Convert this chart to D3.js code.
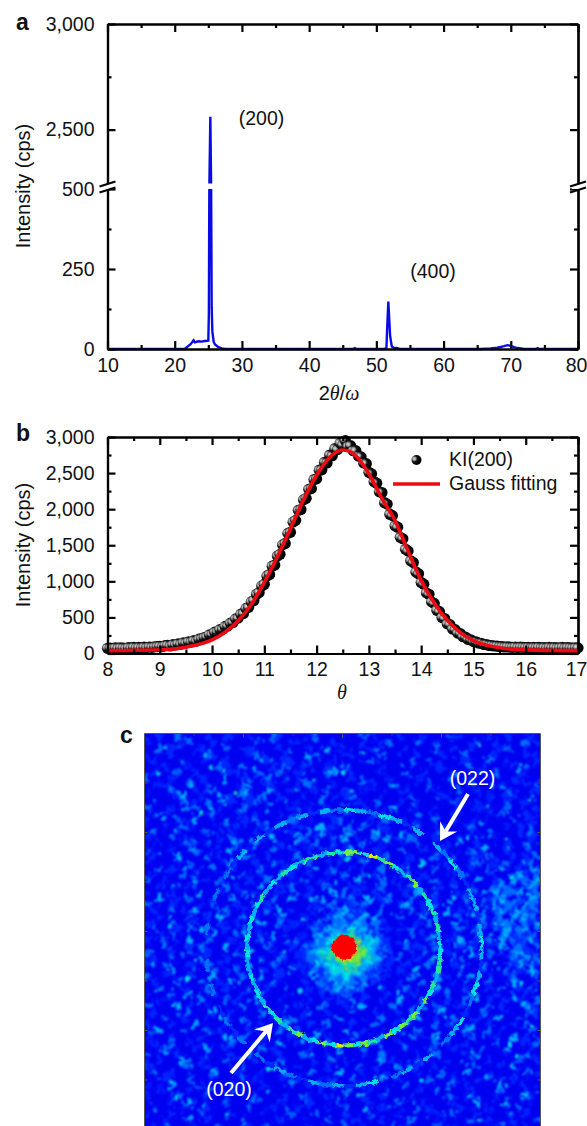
<!DOCTYPE html>
<html>
<head>
<meta charset="utf-8">
<script src="https://cdn.jsdelivr.net/npm/d3@7"></script>
<style>
html, body { margin: 0; padding: 0; background: #fff; overflow: hidden; }
text { font-family: "Liberation Sans", Arial, sans-serif; fill: #111; }
.axis path, .axis line { stroke: #000; stroke-width: 2.2; }
.axis text { font-size: 19.5px; fill: #111; font-family: "Liberation Sans", Arial, sans-serif; }
</style>
</head>
<body>
<svg id="fig" width="587" height="1126"></svg>
<script>
// panel a : diffractogram
const scanAngle = [10, 21.5, 22, 22.4, 22.8, 23, 23.5, 24, 24.5, 25, 25.08, 25.15, 25.3, 25.42, 25.5, 25.6, 25.8, 26, 26.5, 27, 27.6, 46.5, 46.8, 47, 51.2, 51.5, 51.6, 51.78, 52.05, 52.3, 52.6, 53, 53.5, 65.5, 67, 68, 69, 69.5, 70, 70.5, 71, 72, 73.7, 74, 74.2, 80];
const scanCounts = [0, 0, 9, 16, 27, 21, 24, 23, 25, 26, 110, 500, 2561, 500, 130, 55, 22, 14, 6, 2, 0, 0, 3, 0, 0, 4, 60, 148, 40, 8, 4, 3, 0, 0, 2, 4, 9, 12, 10, 6, 3, 0, 0, 3, 0, 0];
const peakLabels = ['(200)', '(400)'];

// panel b : rocking curve, one reading every 0.05 degree from 8 to 17
const kiCounts = [
  72, 75, 70, 78, 74, 80, 76, 73, 82, 78, 85, 80, 84, 78, 88, 82, 90, 86, 92, 96,
  100, 96, 108, 112, 104, 122, 118, 134, 128, 148,
  145, 162, 158, 178, 172, 198, 205, 222, 230, 260,
  262, 295, 300, 330, 335, 375, 380, 420, 430, 480,
  490, 545, 555, 625, 640, 715, 735, 820, 845, 935,
  960, 1075, 1095, 1210, 1225, 1350, 1375, 1505, 1525, 1665,
  1680, 1820, 1845, 1985, 1995, 2130, 2150, 2275, 2285, 2410,
  2420, 2540, 2545, 2650, 2640, 2750, 2740, 2840, 2825, 2915,
  2890, 2950, 2870, 2880, 2810, 2810, 2735, 2725, 2640, 2630,
  2510, 2490, 2380, 2360, 2240, 2230, 2090, 2070, 1930, 1910,
  1770, 1750, 1610, 1590, 1445, 1420, 1285, 1260, 1130, 1105,
  985, 960, 840, 820, 715, 695, 600, 580, 500, 485,
  410, 400, 340, 330, 282, 275, 232, 226, 195, 190,
  165, 162, 145, 142, 125, 124, 112, 110, 104, 102,
  96, 94, 90, 92, 88, 86, 90, 84, 88, 86,
  82, 85, 80, 84, 82, 86, 80, 82, 78, 84,
  80, 82, 78, 80, 84, 78, 82, 80, 76, 80,
  78];
const fitTheta = [8, 9, 9.5, 10, 10.25, 10.5, 10.75, 11, 11.25, 11.5, 11.75, 12, 12.25, 12.5, 12.75, 13, 13.25, 13.5, 13.75, 14, 14.25, 14.5, 14.75, 15, 15.25, 15.5, 16, 17];
const fitCounts = [40, 51, 88, 190, 295, 455, 680, 985, 1340, 1730, 2130, 2470, 2720, 2820, 2740, 2490, 2150, 1840, 1420, 1010, 700, 460, 290, 180, 116, 79, 50, 40];

// panel c : detector frame, intensity class 0-9 per cell
const cellRows = [
  '0010020000100110010002100 00120000100201000 100010002110000100100010',
  '1000001200010000002001001 10000010000100120 000200100000110010000201',
  '0020100001000200110000100 00100301000011000 010000200100100001200100',
  '0000100010210000012000010 00020000110000200 100100010002000010000110',
  '1100002000100100000310011 00200010000120000 002001000011000200100001',
  '0001000100002100200001020 01100100200000100 001000110000201000010200',
  '0100020010000011001200200 10000230010000100 020010000100001020000100',
  '2000100001000300100120010 02000100010200010 000110002000100100011000',
  '0011000200100000230011000 10200010000011002 000002000100200001000102',
  '1000200010120001200031001 00010200100100000 110000100020010000200001',
  '0000013001002010310200100 01000010120000100 002000011000000100110020',
  '0100002010200310012000020 10002000001002000 100100000210010000100100',
  '2000100220001000200010001 00100100200100003 001000100010011000200001',
  '0021000000120002001000100 20000100010002100 000201000100000102000100',
  '1000020030010000102000002 00100012000010020 010000200100101000020010',
  '0001002100000201000120100 10003010020200100 000100010001200000101000',
  '0200010001200010001000021 00203100320003010 020000130000100200001020',
  '1000200100001020000103000 32010020301002030 102000100010020010000010',
  '0010001200100002013000100 01020010000200100 010200001030010000100201',
  '2000100020010030100002001 00100200130001000 200010010000203000100010',
  '0100030000201000120010000 20010000201000120 001000200100010200010102',
  '1000010200000130001002100 00200101000200010 010030001000120010200120',
  '0020100001020010000200010 10030020010100200 100000201000100203001032',
  '0100002010000100200100031 00100100200201000 020010000102000100023102',
  '2001000030102000010020100 02001000103000201 000100200100030012031223',
  '0010020100000201000300102 00100200010100200 102000010200100023210132',
  '1000100003001000201000100 20100030201001000 010300200010201031223012',
  '0030010200010030000102003 00103001020030120 002000100302000123102132',
  '2000100001020001003010000 00010120110200100 130010200001002031220321',
  '0100201030000200100020301 00102012301100200 002010003010200013213212',
  '0010000200103000201000100 01000213121301000 200030100020013022031320',
  '1000300010002001000300201 10012022313202100 000102000301002013220213',
  '0200010203000100201000010 00121323242312010 102000100020030021312302',
  '0010200000130002000103000 01023134353231200 002010300100020002312120',
  '1000010300200010000201020 10132345656343110 100002001030010203021231',
  '0003000102000300100020001 02123456787543210 020100200010200013012102',
  '2000100200100002030001000 11234567887653120 001020001000300201023110',
  '0100200003000100200100210 01223556776543201 200100300200010000121302',
  '1002000100201000030002000 10132435656342110 010002000101002030013021',
  '0000300020000102000100103 01021344454321100 100300100020001000201230',
  '2001000100030000200300100 00131233433212010 002000201000300100120012',
  '0100020002001030001002000 01002132321301000 100020000102000200031001',
  '0030001000200100020010020 00101213131200100 020100300001000102001020',
  '1000200300010000100200001 01001021210100010 001000102000300010020100',
  '0010100002000201003000100 00100101020100100 300020001002000100101002',
  '2000030100100000200100020 10002000100300002 000100200010000201000310',
  '0100000200030010000201000 00200100020001000 102000030001002000100021',
  '0002001000100200300001002 01000003000100200 000300100200010030002001',
  '1000100030000100020100030 00100200010002001 020000201000300100010200',
  '0030002000201000010000200 20001000300100000 100200000103000201000020',
  '1000100001000300200100001 00030100002000100 002010300000200010030100',
  '0100200100000020001000300 10000200100003000 100000201001000020000102',
  '0002000010300100000201000 00100003000200100 020003000100002000300010',
  '2000010000200010030000100 02000100000100200 000100200001030000100200',
  '0010003001000200001000200 00010020100000301 000200001000200100002001',
  '1000000200100010200003000 10000100002001000 203000100000020001030000',
  '0200100000030001000100020 00200003000100010 000100020003000100000201',
  '0001000200010000201000100 10000100020000300 100002000100010200010000',
  '1000300001000020000100002 00100020000100000 020010000201000003000100',
  '0010000100200000100030000 00001000200010020 000100200000100002000102',
  '1000020000100100002000010 02000100000300100 001000002000100010000200',
  '0000100300000200010000100 00100002000010000 200010000100030000200010',
  '0200001000100000020001000 10000100200000100 000201000010000100002000',
  '1000100002000010000100002 00020000100020000 100000100200010000100100',
  '0001000200100000300000100 01000200001000100 002000010000200100010002',
  '0100000010002000010020000 00100000200100002 010000200100000002000100'
];
// brightest single speckles, in cell units
const spotCols = [
  3.4, 11.2, 19.7, 27.1, 38.6, 47.3, 55.8, 62.4, 7.9, 15.3, 23.8, 33.2, 41.5, 51.1, 59.6, 1.7, 9.4, 17.6, 30.3, 44.9,
  36.2, 13.6, 5.1, 25.4, 48.8, 57.2, 64.3, 20.9, 42.7, 29.5, 10.8, 53.6, 34.1, 2.6, 16.4, 60.7, 39.9, 46.2, 24.3, 6.8,
  52.4, 14.7, 63.1, 31.8, 8.3, 22.6, 44.1, 56.9, 18.2, 37.5, 0.9, 27.7, 49.6, 12.1, 61.4, 35.3, 4.2, 41.2, 54.8, 20.1,
  9.7, 58.3, 26.6, 16.9, 47.7, 3.1, 38.1, 64.8, 30.9, 13.2, 51.9, 23.3, 62.6, 6.4, 43.6, 19.4, 57.7, 34.8, 1.4, 28.8,
  11.6, 60.1, 45.5, 7.2, 53.1, 21.7, 39.2, 64.1, 15.8, 2.8, 49.1, 25.9, 58.9, 9.1, 42.4, 17.3, 62.9, 4.9, 55.3, 30.2,
  61.8, 5.8, 46.9, 12.7, 63.7, 22.1, 59.2, 8.6, 51.3, 18.8, 64.6, 1.2, 43.1, 14.4, 56.4, 26.2, 60.9, 10.3, 48.4, 3.7,
  27.9, 62.2, 16.1, 52.8, 6.1, 41.9, 20.6, 64.4, 11.9, 57.1, 2.2, 46.1, 24.8, 60.3, 8.9, 50.6, 14.9, 63.3, 38.7, 29.4,
  5.4, 54.2, 19.1, 44.8, 9.9, 59.8, 23.9, 1.9, 49.9, 33.6, 13.8, 61.1, 40.6, 7.6, 55.9, 26.9, 16.6, 47.1, 3.9, 36.8,
  62.7, 21.2, 52.1, 10.1, 42.9, 28.3, 58.1, 5.9, 34.4, 18.3, 48.9, 64.2, 12.4, 39.7, 24.1, 56.1, 2.4, 45.4, 30.7, 15.1,
  60.4, 8.1, 51.6, 37.2, 20.4, 63.9, 27.3, 43.9, 11.1, 54.6, 33.9, 6.6, 47.8, 17.9, 58.6, 25.1, 40.3, 3.2, 52.9, 13.3
];
const spotRows = [
  2.3, 5.6, 1.2, 3.8, 2.7, 4.4, 1.9, 6.2, 8.5, 9.9, 7.4, 6.6, 8.9, 7.7, 9.1, 11.3, 13.2, 8.1, 10.6, 11.8,
  3.2, 14.6, 16.2, 9.4, 13.7, 12.1, 15.4, 11.7, 16.9, 12.9, 18.3, 17.2, 15.8, 19.9, 20.6, 19.1, 20.2, 21.8, 18.9, 22.4,
  22.7, 24.1, 21.3, 24.9, 25.6, 23.2, 25.3, 26.4, 27.2, 23.8, 28.1, 27.8, 28.6, 29.4, 24.3, 28.4, 30.7, 29.9, 30.2, 31.6,
  32.8, 27.6, 31.1, 33.4, 33.9, 34.2, 30.9, 29.1, 35.4, 35.8, 35.2, 36.4, 32.4, 37.1, 34.7, 37.9, 33.7, 29.6, 38.6, 38.2,
  39.4, 35.9, 39.9, 40.8, 38.8, 40.3, 42.2, 37.4, 41.6, 42.4, 41.1, 42.9, 39.2, 43.7, 43.1, 44.6, 41.9, 45.3, 44.2, 44.9,
  44.4, 46.7, 45.8, 47.4, 46.1, 47.9, 47.2, 48.6, 48.3, 49.2, 48.8, 49.7, 50.1, 50.8, 50.4, 51.3, 51.7, 52.2, 52.6, 53.1,
  53.6, 53.9, 54.3, 54.7, 55.2, 55.6, 55.9, 56.3, 56.7, 57.1, 57.5, 57.8, 58.2, 58.6, 58.9, 59.3, 59.7, 60.2, 57.4, 58.1,
  60.8, 60.5, 61.2, 61.6, 62.1, 61.9, 62.6, 62.9, 63.2, 60.1, 63.7, 63.4, 62.2, 64.1, 64.5, 61.4, 64.9, 63.9, 65.2, 62.7,
  5.1, 4.3, 6.9, 3.6, 5.4, 7.8, 8.8, 2.1, 9.7, 5.9, 10.9, 11.2, 10.2, 14.2, 2.9, 14.9, 6.7, 15.3, 7.1, 18.1,
  17.4, 19.4, 20.7, 21.1, 13.1, 26.7, 15.7, 22.1, 12.4, 26.1, 20.9, 12.7, 24.6, 17.6, 31.7, 34.6, 24.4, 14.1, 37.6, 6.1
];
const spotLevels = [
  3, 4, 2, 3, 3, 2, 4, 3, 3, 5, 2, 4, 3, 2, 3, 3, 4, 2, 3, 2,
  4, 3, 3, 4, 2, 3, 2, 3, 3, 4, 2, 4, 2, 3, 3, 3, 2, 4, 2, 3,
  2, 4, 3, 3, 2, 4, 2, 3, 3, 4, 2, 3, 3, 2, 4, 2, 3, 3, 4, 3,
  3, 2, 4, 3, 3, 2, 3, 3, 2, 4, 3, 4, 2, 2, 3, 3, 4, 2, 3, 4,
  2, 3, 3, 4, 3, 2, 4, 3, 3, 2, 3, 4, 2, 3, 3, 2, 4, 3, 4, 2,
  3, 2, 3, 4, 2, 3, 3, 2, 3, 4, 4, 2, 3, 3, 2, 3, 4, 3, 2, 3,
  3, 4, 2, 2, 3, 3, 4, 2, 3, 3, 2, 4, 3, 3, 2, 3, 2, 4, 3, 2,
  4, 3, 2, 3, 3, 4, 2, 3, 2, 3, 4, 3, 2, 3, 3, 2, 4, 2, 3, 3,
  4, 2, 3, 3, 2, 4, 3, 2, 3, 3, 2, 4, 3, 2, 3, 3, 4, 3, 2, 3,
  4, 3, 2, 3, 3, 4, 2, 3, 3, 2, 4, 3, 2, 3, 4, 2, 3, 3, 2, 3
];

const ringAngles = d3.range(0, 360, 5);
const ring020Levels = [
  4, 5, 5, 3, 5, 4, 6, 3, 6, 5,
  6, 4, 6, 3, 5, 6, 4, 6, 7, 4,
  6, 4, 3, 6, 5, 3, 5, 4, 5, 3,
  4, 3, 4, 3, 3, 4, 3, 4, 3, 4,
  3, 4, 5, 3, 4, 3, 5, 4, 3, 5,
  5, 3, 5, 4, 6, 6, 4, 7, 5, 6,
  4, 3, 5, 6, 3, 5, 4, 5, 3, 5, 3, 4];
const ring022Levels = [
  3, 1, 3, 4, 2, 1, 4, 3, 2, 0,
  3, 1, 3, 2, 0, 4, 3, 1, 3, 2,
  3, 1, 2, 3, 1, 2, 0, 2, 1, 2,
  1, 0, 2, 0, 2, 1, 0, 2, 1, 0,
  2, 0, 2, 1, 3, 0, 3, 1, 3, 2,
  3, 1, 3, 2, 4, 3, 2, 4, 3, 1,
  3, 0, 3, 2, 4, 2, 1, 3, 3, 1, 3, 4];
const coreAngles = d3.range(0, 360, 15);
const coreRadii = [2.0, 2.1, 1.9, 2.2, 2.0, 1.9, 2.1, 2.2, 2.0, 1.8, 2.1, 2.0, 2.2, 1.9, 2.0, 2.1, 1.9, 2.2, 2.3, 2.0, 2.1, 1.9, 2.0, 2.2];
const ringLabels = ['(022)', '(020)'];

const svg = d3.select('#fig');
const defs = svg.append('defs');

// sphere marker of panel b
const sphere = defs.append('radialGradient').attr('id', 'sphere')
  .attr('cx', 0.28).attr('cy', 0.38).attr('r', 0.6);
sphere.append('stop').attr('offset', 0).attr('stop-color', '#e0e0e0');
sphere.append('stop').attr('offset', 0.25).attr('stop-color', '#a0a0a0');
sphere.append('stop').attr('offset', 0.5).attr('stop-color', '#151515');
sphere.append('stop').attr('offset', 1).attr('stop-color', '#000');

// soft, slightly warped look of the detector image
const addWarp = (id, freq, scale, blur) => {
  const f = defs.append('filter').attr('id', id)
    .attr('x', '-5%').attr('y', '-5%').attr('width', '110%').attr('height', '110%')
    .attr('color-interpolation-filters', 'sRGB');
  f.append('feTurbulence').attr('type', 'fractalNoise').attr('baseFrequency', freq)
    .attr('numOctaves', 2).attr('seed', 4).attr('result', 'n');
  f.append('feDisplacementMap').attr('in', 'SourceGraphic').attr('in2', 'n')
    .attr('scale', scale).attr('xChannelSelector', 'R').attr('yChannelSelector', 'G').attr('result', 'd');
  f.append('feGaussianBlur').attr('in', 'd').attr('stdDeviation', blur);
};
addWarp('warpCells', 0.16, 16, 1.0);
addWarp('warpSpots', 0.2, 8, 0.8);
addWarp('warpRings', 0.22, 6, 0.75);
addWarp('warpCore', 0.25, 4, 0.5);

const plotLeft = 107.5, plotRight = 578;
const comma = d3.format(',');

// draws the frame of a plot, ticks inward on the four sides
const drawFrame = (x, y, xMajor, xMinor, yMajor, yMinor, yLabels) => {
  const top = y.range()[y.range().length - 1], bottom = y.range()[0];
  const g = svg.append('g');
  const side = (axis, tx, ty, values, len, labels, pad) => {
    return g.append('g').attr('class', 'axis')
      .attr('transform', `translate(${tx},${ty})`)
      .call(axis.tickValues(values).tickSizeInner(-len).tickSizeOuter(0).tickPadding(pad || 0)
        .tickFormat(labels ? labels : () => ''));
  };
  const bottomAxis = side(d3.axisBottom(x), 0, bottom, xMajor, 8, (d) => d, 9);
  // last label stays inside the window
  bottomAxis.selectAll('.tick:last-of-type text').attr('dx', -2);
  side(d3.axisBottom(x), 0, bottom, xMinor, 4, null);
  side(d3.axisTop(x), 0, top, xMajor, 8, null);
  side(d3.axisTop(x), 0, top, xMinor, 4, null);
  side(d3.axisLeft(y), plotLeft, 0, yMajor, 8, yLabels, 13);
  side(d3.axisLeft(y), plotLeft, 0, yMinor, 4, null);
  side(d3.axisRight(y), plotRight, 0, yMajor, 8, null);
  side(d3.axisRight(y), plotRight, 0, yMinor, 4, null);
  return g;
};

const addText = (x, y, s, size, opts = {}) => svg.append('text')
  .attr('x', x).attr('y', y).attr('font-size', size)
  .attr('text-anchor', opts.anchor || 'middle')
  .attr('font-weight', opts.weight || null)
  .style('fill', opts.fill || '#111')
  .text(s);

// ---- panel a
const xA = d3.scaleLinear().domain([10, 80]).range([plotLeft, plotRight]);
const yA = d3.scaleLinear().domain([0, 500, 2226, 3000]).range([349, 189, 187.5, 24]);
svg.append('path')
  .attr('d', d3.line().x((d, i) => xA(scanAngle[i])).y((d) => yA(d))(scanCounts))
  .attr('fill', 'none').attr('stroke', '#0a0ae6').attr('stroke-width', 2.4);
// white gap of the broken axis
svg.append('rect').attr('x', xA(24)).attr('width', xA(27) - xA(24)).attr('y', 183.5).attr('height', 5.5).attr('fill', '#fff');

drawFrame(xA, yA, d3.range(10, 81, 10), d3.range(15, 80, 10), [0, 250, 500, 2500, 3000], [125, 375, 2750], comma);
[plotLeft, plotRight].forEach((px) => {
  svg.append('rect').attr('x', px - 6).attr('y', 184).attr('width', 12).attr('height', 5).attr('fill', '#fff');
  [184, 190].forEach((py) => {
    svg.append('line').attr('x1', px - 8).attr('x2', px + 8).attr('y1', py + 2.5).attr('y2', py - 2.5)
      .attr('stroke', '#000').attr('stroke-width', 2.2);
  });
});
addText(261.5, 125, peakLabels[0], 19.5);
addText(433, 278, peakLabels[1], 19.5);
addText(16, 30, 'a', 23, { anchor: 'start', weight: 'bold' });
svg.append('text').attr('transform', 'translate(30,186) rotate(-90)').attr('text-anchor', 'middle').attr('font-size', 20).text('Intensity (cps)');
const labelA = svg.append('text').attr('x', 339).attr('y', 400).attr('text-anchor', 'middle').attr('font-size', 20);
labelA.append('tspan').text('2');
labelA.append('tspan').style('font-family', '"Liberation Serif", serif').style('font-style', 'italic').text('θ');
labelA.append('tspan').text('/');
labelA.append('tspan').style('font-family', '"Liberation Serif", serif').style('font-style', 'italic').text('ω');

// ---- panel b
const xB = d3.scaleLinear().domain([8, 17]).range([plotLeft, plotRight]);
const yB = d3.scaleLinear().domain([0, 3000]).range([653.5, 437]);
const kiTheta = d3.range(kiCounts.length).map((i) => 8 + i * 0.05);
svg.append('g').selectAll('circle').data(kiCounts).join('circle')
  .attr('cx', (d, i) => xB(kiTheta[i]))
  .attr('cy', (d) => yB(d))
  .attr('r', 5.6)
  .attr('fill', 'url(#sphere)');
svg.append('path')
  .attr('d', d3.line().curve(d3.curveMonotoneX).x((d, i) => xB(fitTheta[i])).y((d) => yB(d))(fitCounts))
  .attr('fill', 'none').attr('stroke', '#ee0a12').attr('stroke-width', 3.6);
drawFrame(xB, yB, d3.range(8, 18), d3.range(8.5, 17, 1), d3.range(0, 3001, 500), d3.range(250, 3000, 500), comma);
svg.append('circle').attr('cx', 416.5).attr('cy', 460).attr('r', 5).attr('fill', 'url(#sphere)');
svg.append('line').attr('x1', 393).attr('x2', 440).attr('y1', 484).attr('y2', 484).attr('stroke', '#ee0a12').attr('stroke-width', 3.6);
addText(449, 466, 'KI(200)', 19.5, { anchor: 'start' });
addText(449, 490, 'Gauss fitting', 19.5, { anchor: 'start' });
addText(16, 441, 'b', 23, { anchor: 'start', weight: 'bold' });
svg.append('text').attr('transform', 'translate(30,545) rotate(-90)').attr('text-anchor', 'middle').attr('font-size', 20).text('Intensity (cps)');
svg.append('text').attr('x', 342).attr('y', 699).attr('text-anchor', 'middle').attr('font-size', 20)
  .style('font-family', '"Liberation Serif", serif').style('font-style', 'italic').text('θ');

// ---- panel c
const xC = d3.scaleLinear().domain([0, 66]).range([144.5, 540.5]);
const yC = d3.scaleLinear().domain([0, 66]).range([733.5, 1129.5]);
const jet = d3.scaleLinear()
  .domain([0, 1, 2, 3, 4, 5, 6, 7, 8, 9])
  .range(['#0000f0', '#0028ff', '#0070ff', '#00b0ff', '#00e4e4', '#20e8a0', '#70f040', '#d8f000', '#ff9000', '#ff0000']);

defs.append('clipPath').attr('id', 'frameC').append('rect')
  .attr('x', xC(0)).attr('y', yC(0)).attr('width', xC(66) - xC(0)).attr('height', 1126 - yC(0));
const imgC = svg.append('g').attr('clip-path', 'url(#frameC)');
imgC.append('rect').attr('x', xC(0)).attr('y', yC(0)).attr('width', xC(66) - xC(0)).attr('height', 400).attr('fill', jet(0));

const cells = cellRows.flatMap((row, r) => row.replace(/ /g, '').split('').map((c, col) => ({ r, col, v: +c }))).filter((d) => d.v > 0);
imgC.append('g').attr('filter', 'url(#warpCells)').selectAll('rect').data(cells).join('rect')
  .attr('x', (d) => xC(d.col))
  .attr('y', (d) => yC(d.r))
  .attr('width', xC(1) - xC(0))
  .attr('height', yC(1) - yC(0))
  .attr('fill', (d) => jet(d.v));

imgC.append('g').attr('filter', 'url(#warpSpots)').selectAll('circle').data(spotCols).join('circle')
  .attr('cx', (d) => xC(d))
  .attr('cy', (d, i) => yC(spotRows[i]))
  .attr('r', 2)
  .attr('fill', (d, i) => jet(spotLevels[i]));

// rings, one arc segment per angle
const drawRing = (levels, radiusCells, row0, col0, thick) => {
  const r = xC(radiusCells) - xC(0);
  const arc = d3.arc().innerRadius(r - thick / 2).outerRadius(r + thick / 2);
  imgC.append('g').attr('filter', 'url(#warpRings)')
    .attr('transform', `translate(${xC(col0)},${yC(row0)})`)
    .selectAll('path').data(levels).join('path')
    .attr('d', (d, i) => arc({
      startAngle: (ringAngles[i] + 90) * Math.PI / 180,
      endAngle: (ringAngles[i] + 95) * Math.PI / 180
    }))
    .attr('fill', (d) => jet(d))
    .attr('fill-opacity', (d) => (d > 0 ? 1 : 0));
};
drawRing(ring022Levels, 23, 35.7, 33.2, 3.6);
drawRing(ring020Levels, 16.1, 35.9, 33.2, 4.2);

// saturated core
imgC.append('path')
  .attr('transform', `translate(${xC(33.3)},${yC(35.6)})`)
  .attr('d', d3.lineRadial().curve(d3.curveLinearClosed)
    .angle((d, i) => coreAngles[i] * Math.PI / 180)
    .radius((d) => xC(d) - xC(0))(coreRadii))
  .attr('fill', jet(9))
  .attr('filter', 'url(#warpCore)');

// small grey ticks of the frame
const tickC = svg.append('g').attr('stroke', '#555').attr('stroke-width', 1);
const detTicks = [8.25, 16.5, 24.75, 33, 41.25, 49.5, 57.75];
tickC.append('line').attr('x1', xC(0)).attr('x2', xC(66)).attr('y1', yC(0)).attr('y2', yC(0));
tickC.append('line').attr('x1', xC(66)).attr('x2', xC(66)).attr('y1', yC(0)).attr('y2', 1126);
tickC.append('line').attr('x1', xC(0)).attr('x2', xC(0)).attr('y1', yC(0)).attr('y2', 1126);
tickC.selectAll('.tt').data(detTicks).join('line').attr('class', 'tt')
  .attr('x1', (d) => xC(d)).attr('x2', (d) => xC(d)).attr('y1', yC(0)).attr('y2', (d, i) => yC(0) + (i % 2 ? 4 : 2));
tickC.selectAll('.tr').data(detTicks).join('line').attr('class', 'tr')
  .attr('x1', xC(66) - 3).attr('x2', xC(66)).attr('y1', (d) => yC(d)).attr('y2', (d) => yC(d));
tickC.selectAll('.tl').data(detTicks).join('line').attr('class', 'tl')
  .attr('x1', xC(0)).attr('x2', xC(0) + 3).attr('y1', (d) => yC(d)).attr('y2', (d) => yC(d));

// arrows pointing at the rings
const arrow = (x1, y1, x2, y2) => {
  const a = Math.atan2(y2 - y1, x2 - x1), L = 17, W = 10, N = 11;
  const px = (d, s) => x2 - d * Math.cos(a) - s * Math.sin(a);
  const py = (d, s) => y2 - d * Math.sin(a) + s * Math.cos(a);
  svg.append('line').attr('x1', x1).attr('y1', y1).attr('x2', px(N, 0)).attr('y2', py(N, 0))
    .attr('stroke', '#fff').attr('stroke-width', 4);
  svg.append('path')
    .attr('d', `M${x2},${y2}L${px(L, W)},${py(L, W)}L${px(N, 0)},${py(N, 0)}L${px(L, -W)},${py(L, -W)}Z`)
    .attr('fill', '#fff');
};
arrow(468, 794, 440, 841);
arrow(231, 1073, 273, 1023);
addText(472.5, 785, ringLabels[0], 19.5, { fill: '#fff' });
addText(229, 1096, ringLabels[1], 19.5, { fill: '#fff' });
addText(120, 743, 'c', 23, { anchor: 'start', weight: 'bold' });
</script>
</body>
</html>
